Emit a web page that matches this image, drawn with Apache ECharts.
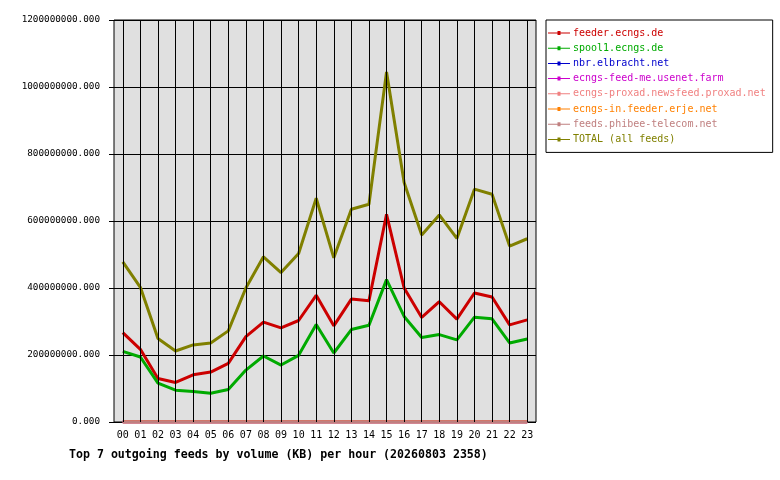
<!DOCTYPE html>
<html><head><meta charset="utf-8">
<script src="https://cdn.jsdelivr.net/npm/echarts@6/dist/echarts.min.js"></script>
<style>html,body{margin:0;padding:0;background:#fff}#c{width:780px;height:480px}</style>
</head><body><div id="c"></div>
<script>
const hours = ['00','01','02','03','04','05','06','07','08','09','10','11','12','13','14','15','16','17','18','19','20','21','22','23'];
const feederEcngs = [267,217,130,118,141,149,175,255,298,281,303,378,287,367,362,620,400,312,359,307,385,373,290,305].map(v=>v*1e6);
const spool1Ecngs = [211,194,116,95,91,86,97,155,197,170,199,291,206,276,289,425,315,252,261,245,313,308,236,248].map(v=>v*1e6);
const nbrElbracht = [0,0,0,0,0,0,0,0,0,0,0,0,0,0,0,0,0,0,0,0,0,0,0,0];
const ecngsFeedMe = [0,0,0,0,0,0,0,0,0,0,0,0,0,0,0,0,0,0,0,0,0,0,0,0];
const ecngsProxad = [0,0,0,0,0,0,0,0,0,0,0,0,0,0,0,0,0,0,0,0,0,0,0,0];
const ecngsInErje = [0,0,0,0,0,0,0,0,0,0,0,0,0,0,0,0,0,0,0,0,0,0,0,0];
const feedsPhibee = [0,0,0,0,0,0,0,0,0,0,0,0,0,0,0,0,0,0,0,0,0,0,0,0];
const totalAll = [478,402,249,212,230,236,272,400,493,446,503,668,490,635,650,1045,715,558,618,548,695,680,525,547].map(v=>v*1e6);
const seriesNames = ['feeder.ecngs.de','spool1.ecngs.de','nbr.elbracht.net','ecngs-feed-me.usenet.farm','ecngs-proxad.newsfeed.proxad.net','ecngs-in.feeder.erje.net','feeds.phibee-telecom.net','TOTAL (all feeds)'];
const seriesColors = ['#cc0000','#00aa00','#0000cc','#cc00cc','#f08080','#ff8000','#c08080','#808000'];
const seriesData = [feederEcngs,spool1Ecngs,nbrElbracht,ecngsFeedMe,ecngsProxad,ecngsInErje,feedsPhibee,totalAll];
const yTicks = {min:0, max:1200000000, interval:200000000};
const titleText = 'Top 7 outgoing feeds by volume (KB) per hour (20260803 2358)';

const mono = 'DejaVu Sans Mono';
const chart = echarts.init(document.getElementById('c'));
const series = seriesNames.map((n,i)=>({
  name:n, type:'line', data:seriesData[i], showSymbol:false, symbol:'none',
  lineStyle:{color:seriesColors[i], width:3}, itemStyle:{color:seriesColors[i]},
  z:3, silent:true
}));
series.unshift({
  type:'line', data:[], z:1, silent:true,
  markLine:{silent:true, symbol:['none','none'], label:{show:false},
    lineStyle:{color:'#000', type:'solid', width:1},
    data:hours.map(h=>({xAxis:h}))}
});
chart.setOption({
  animation:false,
  title:{text:titleText, left:64, top:444, textStyle:{fontFamily:mono, fontWeight:'bold', fontSize:11.6, color:'#000'}},
  grid:{left:114, right:244, top:20, bottom:58, show:true, borderColor:'#000', borderWidth:1, backgroundColor:'#e0e0e0'},
  xAxis:{type:'category', data:hours, boundaryGap:true,
    axisLine:{show:false}, axisTick:{show:false}, splitLine:{show:false},
    axisLabel:{fontFamily:mono, fontSize:10, color:'#000', margin:8}},
  yAxis:{type:'value', min:yTicks.min, max:yTicks.max, interval:yTicks.interval,
    axisLine:{show:false}, axisTick:{show:true, length:5, lineStyle:{color:'#000'}},
    splitLine:{show:true, lineStyle:{color:'#000', width:1}},
    axisLabel:{fontFamily:mono, fontSize:9.3, color:'#000', margin:14, formatter:v=>v.toFixed(3)}},
  legend:{orient:'vertical', left:546, top:20, backgroundColor:'#fff', borderColor:'#000', borderWidth:1,
    padding:[7,7,7,2], itemGap:3.2, itemWidth:22, itemHeight:6,
    icon:'path://M0,2.5 L22,2.5 L22,3.5 L0,3.5 Z M9.5,1 L12.5,1 L12.5,5 L9.5,5 Z',
    textStyle:{fontFamily:mono, fontSize:10, lineHeight:12, padding:[0,0,0,-2]},
    data:seriesNames.map((n,i)=>({name:n, textStyle:{color:seriesColors[i]}}))},
  series:series
});
</script></body></html>
